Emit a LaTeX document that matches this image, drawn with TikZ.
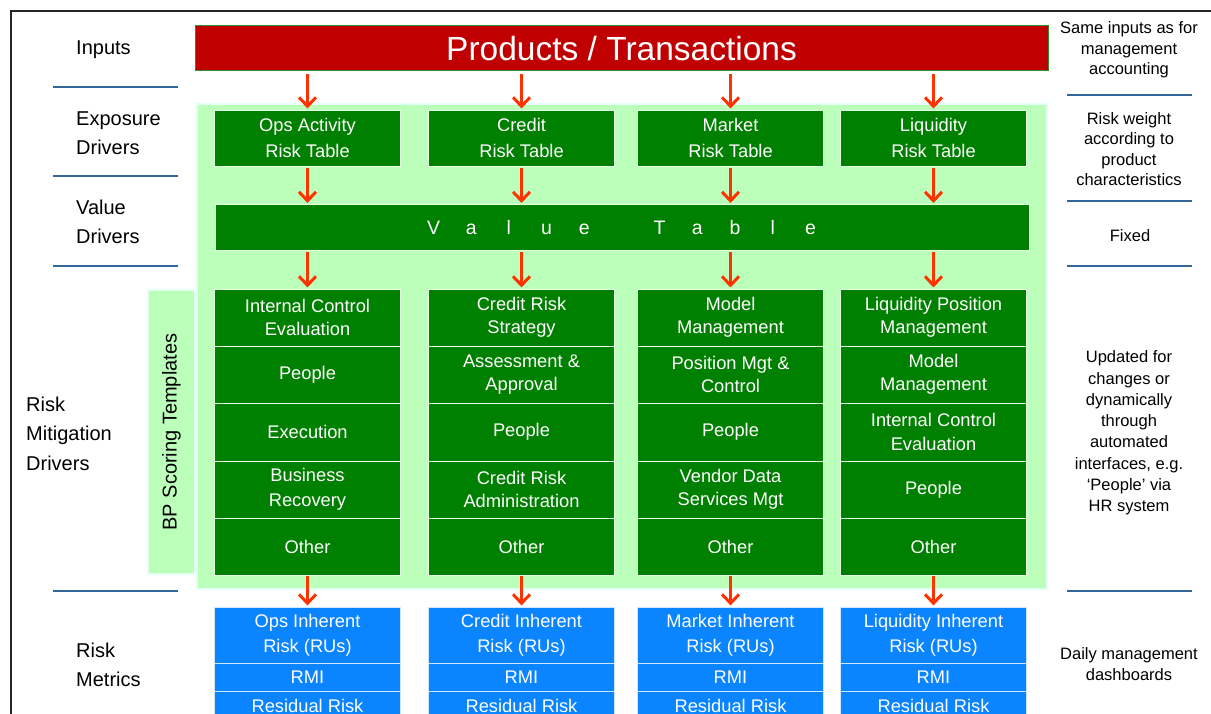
\documentclass[tikz,border=0pt]{standalone}
\usepackage{fontspec}
\setmainfont{Liberation Sans}
\usetikzlibrary{arrows.meta}

\definecolor{barred}{HTML}{C00000}
\definecolor{baredge}{HTML}{2E8B2E}
\definecolor{dkgreen}{HTML}{008000}
\definecolor{gedge}{HTML}{E8FFE8}
\definecolor{ltgreen}{HTML}{BBFFBB}
\definecolor{ltedge}{HTML}{E4FFF6}
\definecolor{mblue}{HTML}{0A84FF}
\definecolor{bedge}{HTML}{CFE6FF}
\definecolor{arrred}{HTML}{FF3300}
\definecolor{sepblue}{HTML}{336699}

% spread-out lettering for the value table
\newcommand{\slot}[1]{\makebox[37.7pt][c]{#1}}

\begin{document}
\begin{tikzpicture}[x=1pt,y=-1pt,
  panel/.style={fill=ltgreen, draw=ltedge, line width=1.5pt, inner sep=0pt, outer sep=0pt},
  gbox/.style={draw=gedge, fill=dkgreen, line width=0.9pt, text=white, inner sep=0pt, outer sep=0pt,
    align=center, minimum width=186pt, font=\fontsize{18.3}{23.5}\selectfont},
  bbox/.style={draw=bedge, fill=mblue, line width=0.9pt, text=white, inner sep=0pt, outer sep=0pt,
    align=center, minimum width=186pt, font=\fontsize{18.3}{25}\selectfont},
  lbl/.style={anchor=west, align=left, inner sep=0pt, font=\fontsize{20}{29.5}\selectfont},
  note/.style={align=center, inner sep=0pt, font=\fontsize{16.5}{20.5}\selectfont},
  sep/.style={draw=sepblue, line width=2pt},
  arr/.style={draw=arrred, line width=3pt, -{Straight Barb[length=9pt,width=17pt]}}
]
\useasboundingbox (0,0) rectangle (1211,714);

% frame
\draw[line width=1.8pt, draw=black!85] (1215,11) -- (11,11) -- (11,720);

% background panels
\node[panel, minimum width=850pt, minimum height=485pt] (main) at (622,346.5) {};
\node[panel, minimum width=47pt, minimum height=284pt] (bp) at (171.5,432) {};
\node[rotate=90, font=\fontsize{20}{24}\selectfont] (bptxt) at (bp.center) {BP Scoring Templates};

% inputs bar
\node[fill=barred, draw=baredge, line width=1pt, minimum width=853pt, minimum height=45pt,
  inner sep=0pt, text=white, font=\fontsize{33.5}{36}\selectfont] (bar) at (621.5,48.5) {Products / Transactions};

% exposure drivers
\node[gbox, minimum height=56pt, font=\fontsize{18.3}{26}\selectfont] (e1) at (307.5,138) {Ops Activity\\Risk Table};
\node[gbox, minimum height=56pt, font=\fontsize{18.3}{26}\selectfont] (e2) at (521.5,138) {Credit\\Risk Table};
\node[gbox, minimum height=56pt, font=\fontsize{18.3}{26}\selectfont] (e3) at (730.5,138) {Market\\Risk Table};
\node[gbox, minimum height=56pt, font=\fontsize{18.3}{26}\selectfont] (e4) at (933.5,138) {Liquidity\\Risk Table};

% value table
\node[gbox, minimum width=814pt, minimum height=46pt, font=\fontsize{19.5}{23}\selectfont] (val) at (622,227.5)
  {\slot{V}\slot{a}\slot{l}\slot{u}\slot{e}\slot{}\slot{T}\slot{a}\slot{b}\slot{l}\slot{e}};

% risk mitigation drivers
\node[gbox, minimum height=57pt] (m11) at (307.5,317.5) {Internal Control\\Evaluation};
\node[gbox, minimum height=57pt] (m12) at (307.5,374.5) {People};
\node[gbox, minimum height=58pt] (m13) at (307.5,432) {Execution};
\node[gbox, minimum height=57pt, font=\fontsize{18.3}{25}\selectfont] (m14) at (307.5,489.5) {Business\\Recovery};
\node[gbox, minimum height=57pt] (m15) at (307.5,546.5) {Other};

\node[gbox, minimum height=57pt] (m21) at (521.5,317.5) {Credit Risk\\Strategy};
\node[gbox, minimum height=57pt] (m22) at (521.5,374.5) {Assessment \&\\Approval};
\node[gbox, minimum height=58pt] (m23) at (521.5,432) {People};
\node[gbox, minimum height=57pt] (m24) at (521.5,489.5) {Credit Risk\\Administration};
\node[gbox, minimum height=57pt] (m25) at (521.5,546.5) {Other};

\node[gbox, minimum height=57pt] (m31) at (730.5,317.5) {Model\\Management};
\node[gbox, minimum height=57pt] (m32) at (730.5,374.5) {Position Mgt \&\\Control};
\node[gbox, minimum height=58pt] (m33) at (730.5,432) {People};
\node[gbox, minimum height=57pt] (m34) at (730.5,489.5) {Vendor Data\\Services Mgt};
\node[gbox, minimum height=57pt] (m35) at (730.5,546.5) {Other};

\node[gbox, minimum height=57pt] (m41) at (933.5,317.5) {Liquidity Position\\Management};
\node[gbox, minimum height=57pt] (m42) at (933.5,374.5) {Model\\Management};
\node[gbox, minimum height=58pt] (m43) at (933.5,432) {Internal Control\\Evaluation};
\node[gbox, minimum height=57pt] (m44) at (933.5,489.5) {People};
\node[gbox, minimum height=57pt] (m45) at (933.5,546.5) {Other};

% risk metrics
\node[bbox, minimum height=56pt] (b11) at (307.5,635) {Ops Inherent\\Risk (RUs)};
\node[bbox, minimum height=28pt] (b12) at (307.5,677) {RMI};
\node[bbox, minimum height=29pt] (b13) at (307.5,705.5) {Residual Risk};
\node[bbox, minimum height=56pt] (b21) at (521.5,635) {Credit Inherent\\Risk (RUs)};
\node[bbox, minimum height=28pt] (b22) at (521.5,677) {RMI};
\node[bbox, minimum height=29pt] (b23) at (521.5,705.5) {Residual Risk};
\node[bbox, minimum height=56pt] (b31) at (730.5,635) {Market Inherent\\Risk (RUs)};
\node[bbox, minimum height=28pt] (b32) at (730.5,677) {RMI};
\node[bbox, minimum height=29pt] (b33) at (730.5,705.5) {Residual Risk};
\node[bbox, minimum height=56pt] (b41) at (933.5,635) {Liquidity Inherent\\Risk (RUs)};
\node[bbox, minimum height=28pt] (b42) at (933.5,677) {RMI};
\node[bbox, minimum height=29pt] (b43) at (933.5,705.5) {Residual Risk};

% flow arrows
\foreach \c in {1,2,3,4}{
  \draw[arr, shorten <=3pt, shorten >=1.5pt] (bar.south -| e\c.north) -- (e\c.north);
  \draw[arr, shorten <=2pt, shorten >=1.5pt] (e\c.south) -- (val.north -| e\c.south);
  \draw[arr, shorten <=2pt, shorten >=1.5pt] (val.south -| m\c1.north) -- (m\c1.north);
  \draw[arr, shorten <=1pt, shorten >=1.5pt] (m\c5.south) -- (b\c1.north);
}

% row labels
\node[lbl] (lin) at (76,50) {Inputs};
\node[lbl] (lexp) at (76,133) {Exposure\\Drivers};
\node[lbl] (lval) at (76,222) {Value\\Drivers};
\node[lbl] (lmit) at (26,433.5) {Risk\\Mitigation\\Drivers};
\node[lbl] (lmet) at (76,665) {Risk\\Metrics};

% separators
\foreach \y in {87,176,266,591}{ \draw[sep] (53,\y) -- (178,\y); }
\foreach \y in {95,201,266,591}{ \draw[sep] (1067,\y) -- (1192,\y); }

% notes
\node[note] (n1) at (1129,50) {Same inputs as for\\management\\accounting};
\node[note] (n2) at (1129,149) {Risk weight\\according to\\product\\characteristics};
\node[note] (n3) at (1130,235.5) {Fixed};
\node[note, font=\fontsize{16.5}{21.3}\selectfont] (n4) at (1129,433) {Updated for\\changes or\\dynamically\\through\\automated\\interfaces, e.g.\\‘People’ via\\HR system};
\node[note] (n5) at (1129,664) {Daily management\\dashboards};
\end{tikzpicture}
\end{document}
